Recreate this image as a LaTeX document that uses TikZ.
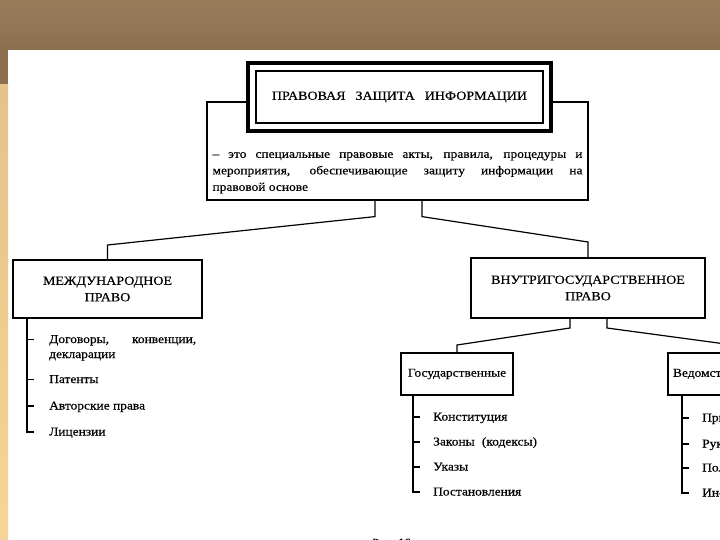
\documentclass[tikz,border=0pt]{standalone}
\usepackage{fontspec}
\setmainfont{Liberation Serif}[FakeStretch=1.12,FakeBold=0.4]
\usepackage{tikz}
\usetikzlibrary{positioning,calc}

\definecolor{bandtop}{RGB}{153,125,91}
\definecolor{bandbot}{RGB}{140,111,79}
\definecolor{striptop}{RGB}{228,194,138}
\definecolor{stripbot}{RGB}{246,214,150}

\tikzset{
  headbox/.style={draw, line width=1.2pt, fill=white, outer sep=0pt, align=center,
    font=\fontsize{12.5}{16.5}\selectfont},
  smallbox/.style={draw, line width=1.2pt, fill=white, outer sep=0pt,
    font=\fontsize{12}{14}\selectfont},
  item/.style={anchor=base west, inner sep=0pt, font=\fontsize{12}{15}\selectfont},
  link/.style={line width=1.2pt},
  heavy/.style={line width=2.8pt},
}

\begin{document}
\begin{tikzpicture}[x=1pt,y=-1pt]
	\useasboundingbox (0,0) rectangle (720,540);
	\clip (0,0) rectangle (720,540);
	\fill[white] (0,0) rectangle (720,540);
	\shade[top color=bandtop, bottom color=bandbot] (0,0) rectangle (720,50);
	\fill[bandbot] (0,50) rectangle (8,85);
	\shade[top color=striptop, bottom color=stripbot] (0,85) rectangle (8,540);
	
	\node[draw, line width=1.2pt, minimum width=381pt, minimum height=98pt] (desc) at (397.5,151) {};
	\node[inner sep=0pt, text width=370pt, align=justify, font=\fontsize{12}{16.5}\selectfont]
		(desctxt) [above=7pt of desc.south] {-- это специальные правовые акты, правила, процедуры и\linebreak
		мероприятия, обеспечивающие защиту информации на\linebreak правовой основе};
	
	\node[draw, line width=3.5pt, fill=white, outer sep=0pt, minimum width=303pt, minimum height=68pt,
		font=\fontsize{12.5}{15}\selectfont] (title) at (399.5,97)
		{ПРАВОВАЯ\hspace{0.8em}ЗАЩИТА\hspace{0.8em}ИНФОРМАЦИИ};
	\draw[line width=1.2pt] ([shift={(8,8)}]title.north west) rectangle ([shift={(-8,-8)}]title.south east);
	
	\node[headbox, minimum width=189pt, minimum height=58pt] (intl) at (107.5,289) {МЕЖДУНАРОДНОЕ\\ПРАВО};
	\node[headbox, minimum width=234pt, minimum height=60pt] (dom) at (588,288) {ВНУТРИГОСУДАРСТВЕННОЕ\\ПРАВО};
	\draw[heavy] (intl.north east) -- (intl.south east) -- (intl.south west);
	\draw[heavy] (dom.north east) -- (dom.south east) -- (dom.south west);
	
	\draw[link] ([xshift=-22.5pt]desc.south) -- ++(0,16) -- ([yshift=15pt]intl.north) -- (intl.north);
	\draw[link] ([xshift=24.5pt]desc.south) -- ++(0,16) -- ([yshift=16pt]dom.north) -- (dom.north);
	
	\node[smallbox, minimum width=112pt, minimum height=42pt] (gov) at (457,374) {Государственные};
	\node[smallbox, anchor=west, minimum height=42pt, text width=120pt, align=left, inner xsep=5pt]
		(ved) at (668,374) {Ведомственные};
	\draw[line width=2pt] (gov.north east) -- (gov.south east) -- (gov.south west);
	\draw[line width=2pt] (ved.south east) -- (ved.south west);
	
	\draw[link] ([xshift=-18pt]dom.south) -- ++(0,10) -- ([yshift=8pt]gov.north) -- (gov.north);
	\draw[link] ([xshift=19pt]dom.south) -- ++(0,10) -- ([yshift=8pt]ved.north) -- (ved.north);
	
	% international law
	\coordinate (mline) at ([xshift=14pt]intl.south west);
	\node[item, text width=147pt, align=justify] (m1) at (49,343) {Договоры, конвенции,\linebreak декларации};
	\node[item] (m2) at (49,383) {Патенты};
	\node[item] (m3) at (49,409.5) {Авторские права};
	\node[item] (m4) at (49,435.5) {Лицензии};
	\draw[link] (mline) -- ($(mline |- m4.base)+(0,-3.5)$) -- ++(7,0);
	\draw[link] ($(mline |- m1.base)+(0,-3.5)$) -- ++(7,0);
	\draw[link] ($(mline |- m2.base)+(0,-3.5)$) -- ++(7,0);
	\draw[link] ($(mline |- m3.base)+(0,-3.5)$) -- ++(7,0);
	
	% state acts
	\coordinate (gline) at ([xshift=12pt]gov.south west);
	\node[item] (g1) at (433,420.5) {Конституция};
	\node[item] (g2) at (433,445.5) {Законы\hspace{0.6em}(кодексы)};
	\node[item] (g3) at (433,470.5) {Указы};
	\node[item] (g4) at (433,495.5) {Постановления};
	\draw[link] (gline) -- ($(gline |- g4.base)+(0,-3.5)$) -- ++(7,0);
	\draw[link] ($(gline |- g1.base)+(0,-3.5)$) -- ++(7,0);
	\draw[link] ($(gline |- g2.base)+(0,-3.5)$) -- ++(7,0);
	\draw[link] ($(gline |- g3.base)+(0,-3.5)$) -- ++(7,0);
	
	% departmental acts
	\coordinate (vline) at ([xshift=14pt]ved.south west);
	\node[item] (v1) at (702,421.5) {Приказы};
	\node[item] (v2) at (702,447.5) {Руководства};
	\node[item] (v3) at (702,471.5) {Положения};
	\node[item] (v4) at (702,496.5) {Инструкции};
	\draw[link] (vline) -- ($(vline |- v4.base)+(0,-3.5)$) -- ++(7,0);
	\draw[link] ($(vline |- v1.base)+(0,-3.5)$) -- ++(7,0);
	\draw[link] ($(vline |- v2.base)+(0,-3.5)$) -- ++(7,0);
	\draw[link] ($(vline |- v3.base)+(0,-3.5)$) -- ++(7,0);
	
	\node[anchor=base west, inner sep=0pt, font=\fontsize{11}{13}\selectfont] (caption) at (372,546) {Рис. 16};
\end{tikzpicture}
\end{document}
